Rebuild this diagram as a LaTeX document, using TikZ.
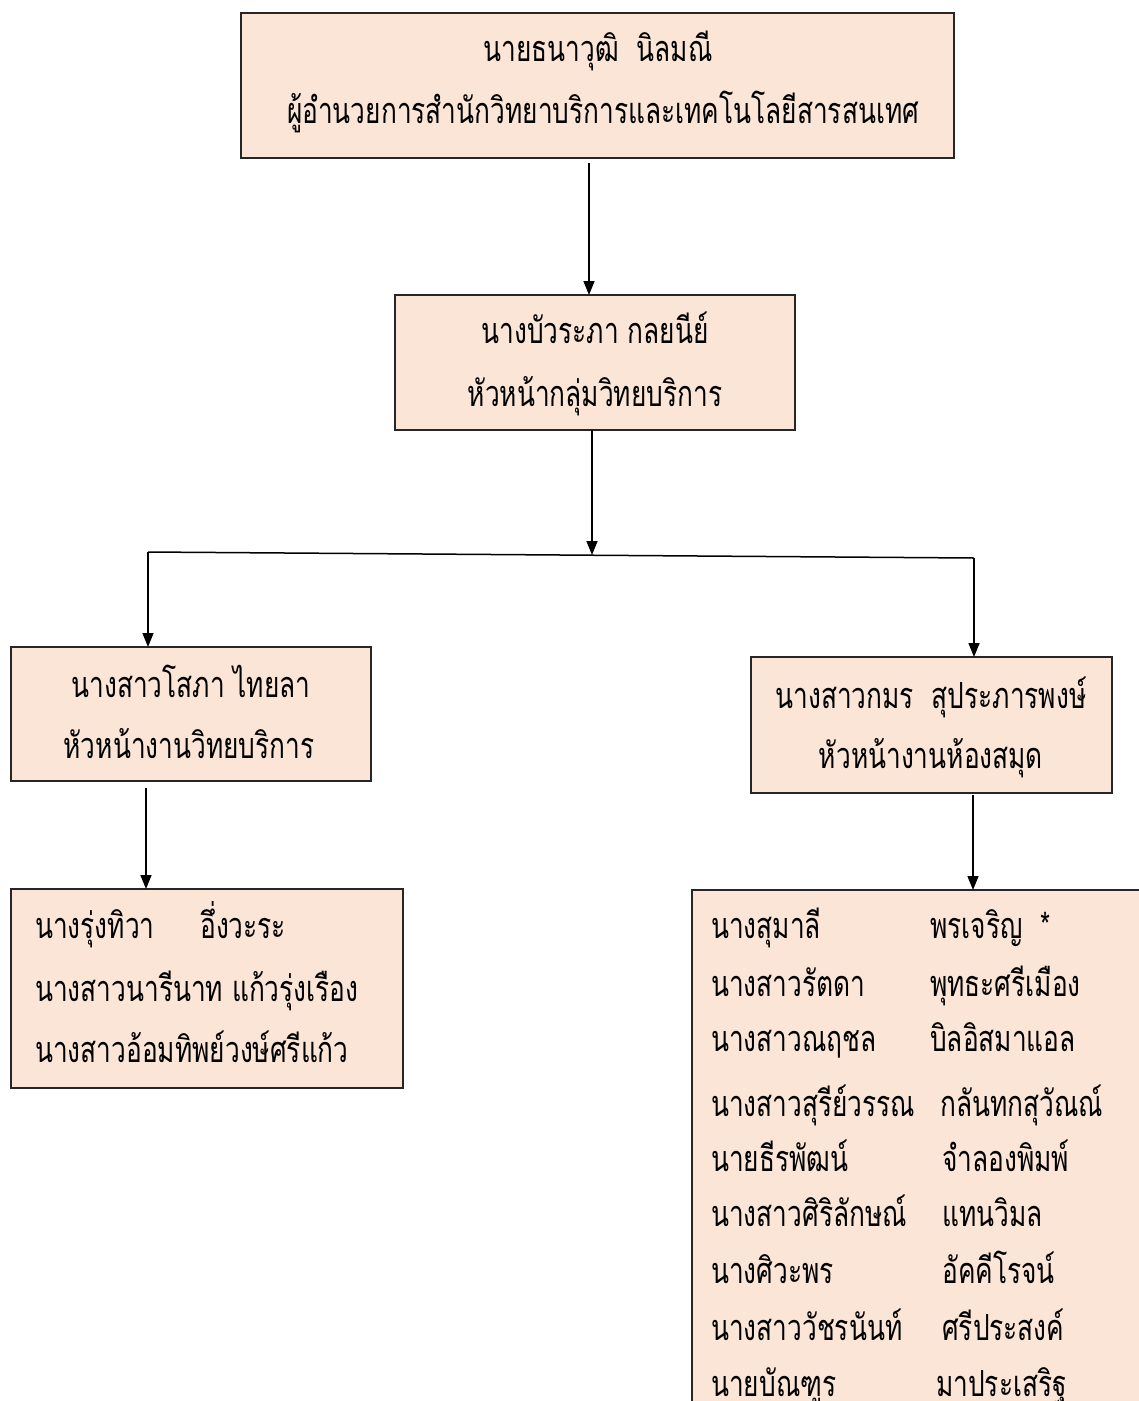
\documentclass[tikz,border=0pt]{standalone}
\usepackage{fontspec}
\newfontfamily\thaifont[Script=Thai,FakeStretch=0.73]{Loma}
\usetikzlibrary{arrows.meta}
\definecolor{peach}{HTML}{FBE5D6}
\tikzset{
  box/.style={draw=black!85, line width=1.2pt, fill=peach, inner sep=0pt, outer sep=0pt},
  txt/.style={font=\thaifont\fontsize{36}{40}\selectfont, inner sep=0pt, anchor=base},
  txtl/.style={txt, anchor=base west},
  arr/.style={line width=1.5pt, -{Triangle[length=14pt,width=11pt]}},
}
\begin{document}
\begin{tikzpicture}[x=1pt,y=-1pt]
\useasboundingbox (0,0) rectangle (1139,1401);
% boxes
\node[box, minimum width=713pt, minimum height=145pt] (b1) at (597.5,85.5) {};
\node[box, minimum width=400pt, minimum height=135pt] (b2) at (595,362.5) {};
\node[box, minimum width=360pt, minimum height=134pt] (b3) at (191,714) {};
\node[box, minimum width=361pt, minimum height=136pt] (b4) at (931.5,725) {};
\node[box, minimum width=392pt, minimum height=199pt] (b5) at (207,988.5) {};
\node[box, minimum width=455pt, minimum height=530pt] (b6) at (919.5,1155) {};
% texts
\node[txt] (t1a) at (598,61) {นายธนาวุฒิ\ \ นิลมณี};
\node[txt] (t1b) at (603,123) {ผู้อำนวยการสำนักวิทยาบริการและเทคโนโลยีสารสนเทศ};
\node[txt] (t2a) at (595,343) {นางบัวระภา กลยนีย์};
\node[txt] (t2b) at (595,406) {หัวหน้ากลุ่มวิทยบริการ};
\node[txt] (t3a) at (191,697) {นางสาวโสภา ไทยลา};
\node[txt] (t3b) at (189,758) {หัวหน้างานวิทยบริการ};
\node[txt] (t4a) at (931,708) {นางสาวกมร\ \ สุประภารพงษ์};
\node[txt] (t4b) at (931,768) {หัวหน้างานห้องสมุด};
\node[txtl] (t5a) at (35,938) {นางรุ่งทิวา};
\node[txtl] (t5b) at (200,938) {อึ่งวะระ};
\node[txtl] (t5c) at (35,1001) {นางสาวนารีนาท แก้วรุ่งเรือง};
\node[txtl] (t5d) at (35,1062) {นางสาวอ้อมทิพย์วงษ์ศรีแก้ว};
\node[txtl] (r1a) at (711,938) {นางสุมาลี};
\node[txtl] (r1b) at (930,938) {พรเจริญ\ \ *};
\node[txtl] (r2a) at (711,996) {นางสาวรัตดา};
\node[txtl] (r2b) at (930,996) {พุทธะศรีเมือง};
\node[txtl] (r3a) at (711,1051) {นางสาวณฤชล};
\node[txtl] (r3b) at (930,1051) {บิลอิสมาแอล};
\node[txtl] (r4a) at (711,1116) {นางสาวสุรีย์วรรณ};
\node[txtl] (r4b) at (940,1116) {กลันทกสุวัณณ์};
\node[txtl] (r5a) at (711,1171) {นายธีรพัฒน์};
\node[txtl] (r5b) at (942,1171) {จำลองพิมพ์};
\node[txtl] (r6a) at (711,1226) {นางสาวศิริลักษณ์};
\node[txtl] (r6b) at (942,1226) {แทนวิมล};
\node[txtl] (r7a) at (711,1283) {นางศิวะพร};
\node[txtl] (r7b) at (942,1283) {อัคคีโรจน์};
\node[txtl] (r8a) at (711,1340) {นางสาววัชรนันท์};
\node[txtl] (r8b) at (942,1340) {ศรีประสงค์};
\node[txtl] (r9a) at (711,1396) {นายบัณฑูร};
\node[txtl] (r9b) at (936,1396) {มาประเสริฐ};
% connectors
\coordinate (j) at (592,555);
\coordinate (hl) at (148,552);
\coordinate (hr) at (974,558);
\coordinate (c3) at (146,788);
\coordinate (c4) at (973,795);
\draw[arr] ([xshift=-8.5pt,yshift=-5pt]b1.south) -- ([xshift=-6pt]b2.north);
\draw[arr] ([xshift=-3pt]b2.south) -- (j);
\draw[line width=1.5pt] (hl) -- (hr);
\draw[arr] (hl) -- (hl |- b3.north);
\draw[arr] (hr) -- (hr |- b4.north);
\draw[arr] (c3) -- (c3 |- b5.north);
\draw[arr] (c4) -- (c4 |- b6.north);
\end{tikzpicture}
\end{document}
